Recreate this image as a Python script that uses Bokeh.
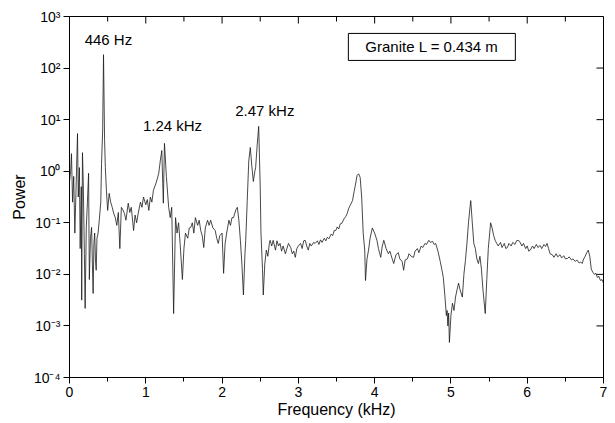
import math
from bokeh.plotting import figure
from bokeh.embed import file_html
from bokeh.resources import INLINE
from bokeh.models import (Label, CustomJSTickFormatter, FixedTicker)

# ---- data ----
freq_khz = [
    0.00, 0.015, 0.026, 0.04, 0.055, 0.07, 0.085, 0.105, 0.115, 0.13, 0.14, 0.155, 0.16, 0.17, 0.18,
    0.195, 0.205, 0.22, 0.235, 0.25, 0.26, 0.275, 0.29, 0.30, 0.31, 0.32, 0.33, 0.34, 0.35, 0.36,
    0.375, 0.39, 0.41, 0.42, 0.435, 0.446, 0.46, 0.47, 0.485, 0.50, 0.52, 0.54, 0.56, 0.58, 0.60,
    0.62, 0.64, 0.66, 0.68, 0.70, 0.72, 0.74, 0.77, 0.79, 0.81, 0.84, 0.86, 0.88, 0.90, 0.93,
    0.95, 0.97, 1.00, 1.02, 1.04, 1.06, 1.08, 1.10, 1.13, 1.15, 1.17, 1.19, 1.21, 1.23, 1.245,
    1.27, 1.30, 1.32, 1.34, 1.365, 1.39, 1.41, 1.43, 1.45, 1.48, 1.50, 1.52, 1.55, 1.57, 1.59,
    1.61, 1.63, 1.65, 1.68, 1.70, 1.72, 1.74, 1.76, 1.78, 1.81, 1.83, 1.85, 1.88, 1.91, 1.93,
    1.95, 1.97, 2.00, 2.02, 2.04, 2.06, 2.09, 2.11, 2.13, 2.15, 2.18, 2.20, 2.22, 2.24, 2.26,
    2.28, 2.30, 2.31, 2.33, 2.35, 2.37, 2.39, 2.41, 2.43, 2.44, 2.46, 2.48, 2.50, 2.51, 2.53,
    2.54, 2.56, 2.58, 2.60, 2.62, 2.63, 2.65, 2.67, 2.70, 2.72, 2.74, 2.76, 2.78, 2.80, 2.83,
    2.85, 2.87, 2.90, 2.92, 2.94, 2.96, 2.98, 3.00, 3.03, 3.05, 3.07, 3.09, 3.11, 3.13, 3.15,
    3.17, 3.20, 3.22, 3.25, 3.27, 3.29, 3.31, 3.34, 3.36, 3.38, 3.40, 3.43, 3.45, 3.47, 3.49,
    3.51, 3.53, 3.55, 3.57, 3.60, 3.62, 3.64, 3.66, 3.68, 3.71, 3.73, 3.75, 3.77, 3.79, 3.81,
    3.83, 3.85, 3.87, 3.88, 3.90, 3.92, 3.94, 3.97, 4.00, 4.03, 4.05, 4.08, 4.10, 4.12, 4.15,
    4.18, 4.20, 4.23, 4.25, 4.28, 4.31, 4.33, 4.36, 4.38, 4.40, 4.43, 4.45, 4.48, 4.51, 4.53,
    4.56, 4.58, 4.61, 4.63, 4.66, 4.68, 4.71, 4.73, 4.76, 4.78, 4.80, 4.83, 4.86, 4.88, 4.90,
    4.92, 4.94, 4.95, 4.96, 4.97, 4.98, 5.00, 5.02, 5.04, 5.06, 5.08, 5.10, 5.12, 5.15, 5.17,
    5.19, 5.21, 5.23, 5.25, 5.26, 5.28, 5.30, 5.32, 5.34, 5.36, 5.38, 5.40, 5.42, 5.45, 5.47,
    5.49, 5.52, 5.54, 5.56, 5.58, 5.60, 5.62, 5.65, 5.67, 5.70, 5.72, 5.74, 5.76, 5.79, 5.81,
    5.84, 5.86, 5.88, 5.90, 5.93, 5.95, 5.98, 6.00, 6.02, 6.04, 6.07, 6.09, 6.12, 6.14, 6.17,
    6.19, 6.22, 6.24, 6.26, 6.28, 6.30, 6.33, 6.35, 6.38, 6.40, 6.43, 6.45, 6.48, 6.50, 6.53,
    6.55, 6.58, 6.60, 6.63, 6.65, 6.68, 6.70, 6.72, 6.74, 6.76, 6.78, 6.80, 6.82, 6.84, 6.86,
    6.88, 6.90, 6.92, 6.94, 6.96, 6.98, 7.00,
]

# power read as decades (log10 of power)
log_power = [
    -0.20, 0.00, 0.34, -0.60, -0.10, -1.20, -0.40, 0.73, -0.50, 0.07, -1.50, -0.30, -2.50, 0.36, -0.18,
    -1.60, -2.66, -1.09, -0.60, -0.04, -2.10, -1.30, -1.09, -1.80, -2.37, -1.40, -1.20, -1.70, -1.92, -1.30,
    -1.20, -0.95, -0.60, 0.15, 0.80, 2.26, 0.60, 0.07, -0.40, -0.76, -0.43, -0.60, -0.70, -0.82, -0.90,
    -1.05, -0.80, -1.50, -0.70, -0.75, -0.82, -0.95, -0.62, -0.80, -0.70, -1.15, -0.85, -1.00, -0.82, -0.60,
    -0.70, -0.50, -0.65, -0.55, -0.76, -0.50, -0.60, -0.37, -0.25, -0.15, -0.04, 0.20, 0.40, -0.62, 0.54,
    -0.10, -0.70, -0.90, -0.70, -2.76, -0.90, -1.20, -1.00, -1.40, -2.10, -1.50, -1.20, -1.30, -1.10, -1.09,
    -1.00, -1.20, -0.90, -1.05, -0.95, -1.15, -1.25, -1.48, -1.10, -0.95, -1.05, -0.95, -1.10, -1.15, -1.30,
    -1.40, -1.25, -1.20, -1.98, -1.40, -1.20, -0.95, -1.05, -0.90, -0.90, -0.75, -0.70, -0.95, -1.34, -1.80,
    -2.40, -1.60, -1.34, -0.57, 0.20, 0.46, 0.10, -0.20, 0.00, 0.07, 0.50, 0.87, -0.30, -1.20, -1.90,
    -2.40, -1.80, -1.53, -1.65, -1.40, -1.34, -1.45, -1.34, -1.53, -1.35, -1.45, -1.40, -1.55, -1.45, -1.60,
    -1.50, -1.40, -1.48, -1.60, -1.55, -1.67, -1.50, -1.45, -1.40, -1.50, -1.35, -1.34, -1.45, -1.53, -1.40,
    -1.45, -1.38, -1.40, -1.35, -1.42, -1.33, -1.38, -1.30, -1.35, -1.28, -1.31, -1.22, -1.25, -1.15, -1.15,
    -1.08, -1.12, -1.02, -1.01, -0.92, -0.88, -0.82, -0.72, -0.66, -0.57, -0.40, -0.25, -0.08, -0.05, -0.12,
    -0.50, -1.20, -1.53, -2.12, -1.70, -1.53, -1.30, -1.10, -1.20, -1.34, -1.50, -1.67, -1.45, -1.34, -1.50,
    -1.60, -1.55, -1.70, -1.79, -1.62, -1.58, -1.70, -1.75, -1.92, -1.72, -1.70, -1.60, -1.65, -1.67, -1.55,
    -1.50, -1.58, -1.45, -1.48, -1.40, -1.42, -1.34, -1.38, -1.36, -1.42, -1.40, -1.55, -1.75, -1.90, -2.06,
    -2.40, -2.80, -2.70, -3.00, -2.75, -3.32, -2.80, -2.56, -2.70, -2.44, -2.30, -2.17, -2.30, -2.44, -2.00,
    -1.73, -1.40, -1.00, -0.70, -0.57, -1.00, -1.40, -1.50, -1.70, -1.79, -1.65, -1.90, -2.30, -2.76, -2.10,
    -1.50, -1.00, -1.10, -1.25, -1.34, -1.40, -1.45, -1.38, -1.48, -1.40, -1.50, -1.48, -1.40, -1.45, -1.38,
    -1.42, -1.35, -1.34, -1.36, -1.45, -1.40, -1.50, -1.45, -1.55, -1.53, -1.45, -1.50, -1.42, -1.48, -1.44,
    -1.50, -1.42, -1.46, -1.40, -1.50, -1.60, -1.62, -1.67, -1.60, -1.66, -1.62, -1.68, -1.64, -1.70, -1.69,
    -1.66, -1.72, -1.70, -1.75, -1.72, -1.78, -1.76, -1.79, -1.70, -1.65, -1.58, -1.53, -1.65, -1.90, -1.96,
    -2.00, -1.98, -2.06, -2.04, -2.12, -2.10, -2.17,
]
power = [10.0 ** v for v in log_power]

x_major = [0, 1, 2, 3, 4, 5, 6, 7]
x_minor = [0.5, 1.5, 2.5, 3.5, 4.5, 5.5, 6.5]
y_decades = [-4, -3, -2, -1, 0, 1, 2, 3]

peak_labels = ["446 Hz", "1.24 kHz", "2.47 kHz"]
peak_label_x = [0.51, 1.35, 2.56]
peak_label_y = [355.0, 7.8, 15.0]

legend_text = "Granite L = 0.434 m"

FONT = "Liberation Sans"
X_MIN, X_MAX = 0, 7
Y_MIN, Y_MAX = 1e-4, 1e3
FRAME_W, FRAME_H = 534, 361

p = figure(frame_width=FRAME_W, frame_height=FRAME_H,
           x_range=(X_MIN, X_MAX), y_range=(Y_MIN, Y_MAX), y_axis_type="log",
           output_backend="svg", toolbar_location=None,
           min_border_left=69, min_border_top=16, min_border_right=8,
           min_border_bottom=0)
p.background_fill_color = "white"
p.border_fill_color = "white"
p.outline_line_color = "black"
p.outline_line_width = 1
p.xgrid.visible = False
p.ygrid.visible = False

p.line(freq_khz, power, line_color="#1a1a1a", line_width=0.8)

sup_js = """
const sup = {'-':'\u207b','0':'\u2070','1':'\u00b9','2':'\u00b2','3':'\u00b3','4':'\u2074'};
const e = Math.round(Math.log10(tick));
return '10' + String(e).split('').map(c => sup[c]).join('');
"""
ytick_vals = [10.0 ** d for d in y_decades]

# bottom axis
xa = p.xaxis[0]
xa.ticker = FixedTicker(ticks=x_major, minor_ticks=x_minor)
xa.major_tick_out = 6
xa.major_tick_in = 0
xa.minor_tick_out = 4
xa.minor_tick_in = 0
xa.axis_label = "Frequency (kHz)"
xa.axis_label_text_font = FONT
xa.axis_label_text_font_size = "16px"
xa.axis_label_text_font_style = "normal"
xa.axis_label_text_color = "black"
xa.axis_label_standoff = 1
xa.major_label_text_font = FONT
xa.major_label_text_font_size = "14px"
xa.major_label_text_color = "black"
xa.major_label_standoff = 3
xa.axis_line_color = "black"
xa.major_tick_line_color = "black"
xa.minor_tick_line_color = "black"

# left axis
ya = p.yaxis[0]
ya.ticker = FixedTicker(ticks=ytick_vals, minor_ticks=[])
ya.formatter = CustomJSTickFormatter(code=sup_js)
ya.major_tick_out = 6
ya.major_tick_in = 0
ya.minor_tick_line_color = None
ya.axis_label = "Power"
ya.axis_label_text_font = FONT
ya.axis_label_text_font_size = "16px"
ya.axis_label_text_font_style = "normal"
ya.axis_label_text_color = "black"
ya.axis_label_standoff = 3
ya.major_label_text_font = FONT
ya.major_label_text_font_size = "14px"
ya.major_label_text_color = "black"
ya.major_label_standoff = 3
ya.axis_line_color = "black"
ya.major_tick_line_color = "black"

# mirror ticks on the top and right frame edges (pointing inward)
MAJOR_LEN, MINOR_LEN = 7, 5   # px
decades = math.log10(Y_MAX) - math.log10(Y_MIN)
top_major_end = Y_MAX / 10 ** (MAJOR_LEN * decades / FRAME_H)
top_minor_end = Y_MAX / 10 ** (MINOR_LEN * decades / FRAME_H)
right_end = X_MAX - MAJOR_LEN * (X_MAX - X_MIN) / FRAME_W
p.segment(x0=x_major, y0=Y_MAX, x1=x_major, y1=top_major_end, line_color="black", line_width=1)
p.segment(x0=x_minor, y0=Y_MAX, x1=x_minor, y1=top_minor_end, line_color="black", line_width=1)
p.segment(x0=X_MAX, y0=ytick_vals, x1=right_end, y1=ytick_vals, line_color="black", line_width=1)

for txt, lx, ly in zip(peak_labels, peak_label_x, peak_label_y):
    p.add_layout(Label(x=lx, y=ly, text=txt, text_align="center", text_baseline="middle",
                       text_font=FONT, text_font_size="15px", text_color="black"))

p.add_layout(Label(x=4.75, y=10 ** 2.41, text=legend_text, text_align="center",
                   text_baseline="middle", text_font=FONT, text_font_size="15px",
                   text_color="black", border_line_color="black", border_line_width=1,
                   background_fill_color="white", padding=(17, 5)))

open("out.html", "w").write(file_html(p, INLINE))
